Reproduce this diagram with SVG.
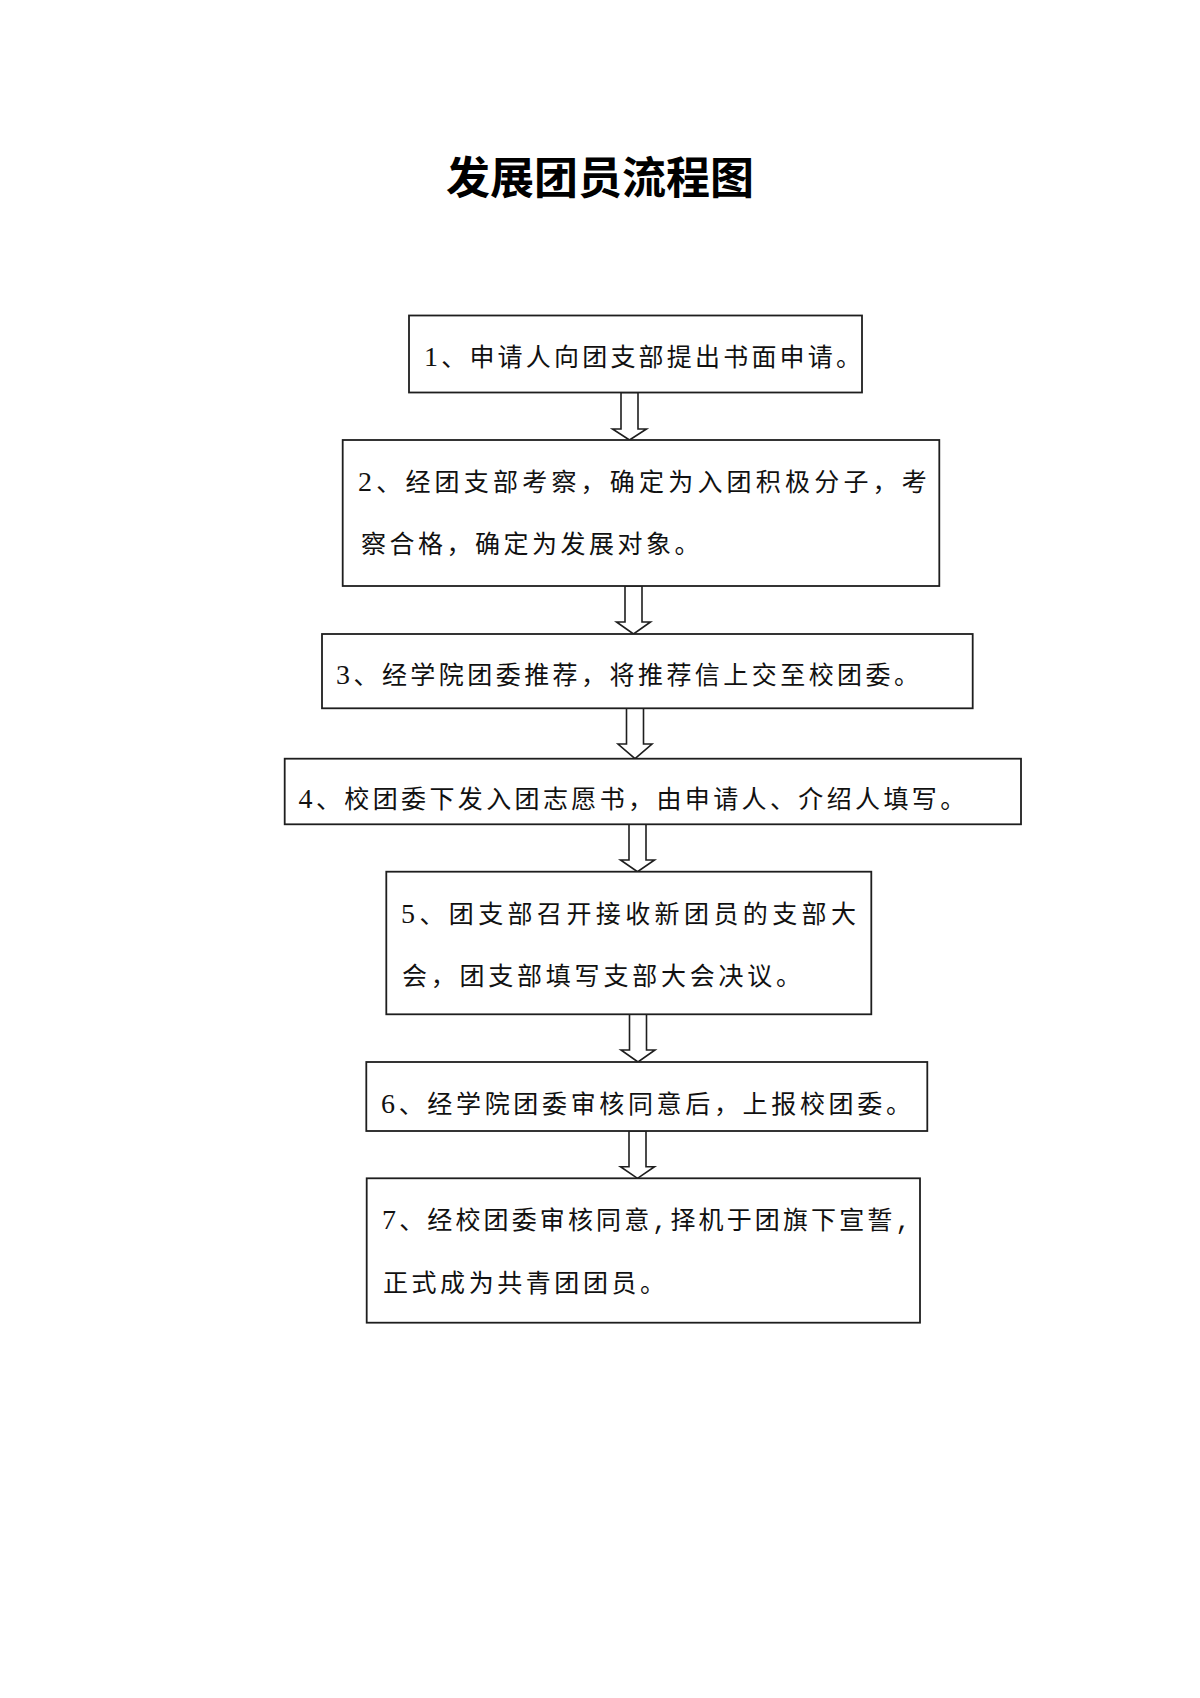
<svg xmlns="http://www.w3.org/2000/svg" width="1200" height="1698" viewBox="0 0 1200 1698">
<style>
.bg{fill:#ffffff}
.box{fill:#ffffff;stroke:#1e1e1e;stroke-width:1.8}
.arr{fill:#ffffff;stroke:#1e1e1e;stroke-width:1.6;stroke-linejoin:miter}
.t{font-family:"Liberation Serif","Noto Sans CJK SC",serif;font-size:25px;fill:#111111}
.d{font-size:28px}
.m{font-family:"Liberation Mono",monospace}
.title{font-family:"Noto Sans CJK SC",sans-serif;font-size:44px;font-weight:700;fill:#000000}
</style>
<rect class="bg" x="0" y="0" width="1200" height="1698"/>
<text id="title" class="title" x="600" y="194" text-anchor="middle">发展团员流程图</text>
<g id="connectors">
<polygon class="arr" points="621,392.5 638,392.5 638,429 646.5,429 629.5,440 612.5,429 621,429"/>
<polygon class="arr" points="625,586 642,586 642,622 650.5,622 633.5,634 616.5,622 625,622"/>
<polygon class="arr" points="626.5,708.3 643.5,708.3 643.5,744 652,744 635,758.7 618,744 626.5,744"/>
<polygon class="arr" points="629,824.3 646,824.3 646,860 654.5,860 637.5,871.7 620.5,860 629,860"/>
<polygon class="arr" points="629.5,1014.3 646.5,1014.3 646.5,1050 655,1050 638,1062 621,1050 629.5,1050"/>
<polygon class="arr" points="629,1131 646,1131 646,1166.7 654.5,1166.7 637.5,1178.3 620.5,1166.7 629,1166.7"/>
</g>
<g id="n1">
<rect class="box" x="409" y="315.5" width="453" height="77"/>
<text class="t" x="424" y="366" letter-spacing="3.2"><tspan class="d">1</tspan>、申请人向团支部提出书面申请。</text>
</g>
<g id="n2">
<rect class="box" x="342.7" y="440" width="596.6" height="146"/>
<text class="t" x="358" y="491" letter-spacing="4.2"><tspan class="d">2</tspan>、经团支部考察，确定为入团积极分子，考</text>
<text class="t" x="361" y="553" letter-spacing="3.5">察合格，确定为发展对象。</text>
</g>
<g id="n3">
<rect class="box" x="322" y="634" width="650.7" height="74.3"/>
<text class="t" x="336" y="684" letter-spacing="3.45"><tspan class="d">3</tspan>、经学院团委推荐，将推荐信上交至校团委。</text>
</g>
<g id="n4">
<rect class="box" x="284.7" y="758.7" width="736.3" height="65.6"/>
<text class="t" x="298.5" y="808" letter-spacing="3.38"><tspan class="d">4</tspan>、校团委下发入团志愿书，由申请人、介绍人填写。</text>
</g>
<g id="n5">
<rect class="box" x="386.3" y="871.7" width="485" height="142.6"/>
<text class="t" x="401" y="923" letter-spacing="4.4"><tspan class="d">5</tspan>、团支部召开接收新团员的支部大</text>
<text class="t" x="402" y="985" letter-spacing="3.77">会，团支部填写支部大会决议。</text>
</g>
<g id="n6">
<rect class="box" x="366.3" y="1062" width="561" height="69"/>
<text class="t" x="381" y="1113" letter-spacing="3.66"><tspan class="d">6</tspan>、经学院团委审核同意后，上报校团委。</text>
</g>
<g id="n7">
<rect class="box" x="366.7" y="1178.3" width="553.3" height="144.4"/>
<text class="t" x="382" y="1229" letter-spacing="3.13"><tspan class="d">7</tspan>、经校团委审核同意<tspan class="m">,</tspan>择机于团旗下宣誓<tspan class="m">,</tspan></text>
<text class="t" x="383" y="1292" letter-spacing="3.56">正式成为共青团团员。</text>
</g>
</svg>
